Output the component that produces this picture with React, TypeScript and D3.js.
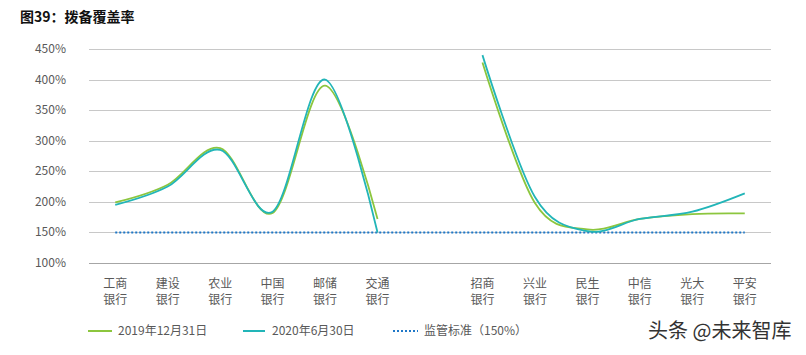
import React from "react";
import * as d3 from "d3";

const W = 806;
const H = 355;
const MARGIN = { TOP: 49, LEFT: 89, RIGHT: 35, BOTTOM: 92 };

const categories = [
  "工商银行", "建设银行", "农业银行", "中国银行", "邮储银行", "交通银行", "",
  "招商银行", "兴业银行", "民生银行", "中信银行", "光大银行", "平安银行",
];
const series2019 = [199, 228, 288, 182, 390, 172, null, 428, 198, 155, 172, 180, 181];
const series2020 = [195, 225, 285, 184, 400, 150, null, 440, 208, 152, 172, 184, 214];
const standard = 150;
const yTicks = [100, 150, 200, 250, 300, 350, 400, 450];

const GREEN = "#8cc63e";
const CYAN = "#22b5b8";
const BLUE = "#1f78c8";
const TEXT = "#595959";
const FONT = "'Noto Sans CJK SC', 'Noto Sans', sans-serif";

const App = () => {
  const x = d3
    .scaleBand()
    .domain(categories.map((c, i) => String(i)))
    .range([MARGIN.LEFT, W - MARGIN.RIGHT]);
  const cx = (i: number) => (x(String(i)) as number) + x.bandwidth() / 2;

  const y = d3.scaleLinear().domain([100, 450]).range([H - MARGIN.BOTTOM, MARGIN.TOP]);

  const line = d3
    .line<number | null>()
    .defined((d) => d !== null)
    .x((d, i) => cx(i))
    .y((d) => y(d as number))
    .curve(d3.curveCardinal.tension(0));

  const firstIdx = 0;
  const lastIdx = categories.length - 1;

  return (
    <svg width={W} height={H} style={{ position: "absolute", left: 0, top: 0, background: "#fff" }} fontFamily={FONT}>
      <text x={20} y={22} fontSize={14} fontWeight="bold" fill="#111">
        图39：拨备覆盖率
      </text>

      {yTicks.map((t) => (
        <g key={t}>
          <line
            x1={MARGIN.LEFT}
            x2={W - MARGIN.RIGHT}
            y1={Math.round(y(t)) + 0.5}
            y2={Math.round(y(t)) + 0.5}
            stroke={t === 100 ? "#a6a6a6" : "#c8c8c8"}
            strokeWidth={1}
          />
          <text x={66} y={y(t) + 4} fontSize={12} fill={TEXT} textAnchor="end">
            {t}%
          </text>
        </g>
      ))}

      {categories.map((c, i) =>
        c ? (
          <text key={i} x={cx(i)} fontSize={12} fill={TEXT} textAnchor="middle">
            <tspan x={cx(i)} y={288}>{c.slice(0, 2)}</tspan>
            <tspan x={cx(i)} y={304}>{c.slice(2)}</tspan>
          </text>
        ) : null
      )}

      <line
        x1={cx(firstIdx)}
        x2={cx(lastIdx)}
        y1={y(standard)}
        y2={y(standard)}
        stroke={BLUE}
        strokeWidth={2}
        strokeDasharray="2,2"
      />
      <path d={line(series2019) || ""} fill="none" stroke={GREEN} strokeWidth={1.8} />
      <path d={line(series2020) || ""} fill="none" stroke={CYAN} strokeWidth={1.8} />

      <g fontSize={12} fill={TEXT}>
        <line x1={88} x2={112} y1={331} y2={331} stroke={GREEN} strokeWidth={2} />
        <text x={118} y={335}>2019年12月31日</text>
        <line x1={243} x2={265} y1={331} y2={331} stroke={CYAN} strokeWidth={2} />
        <text x={272} y={335}>2020年6月30日</text>
        <line x1={393} x2={418} y1={331} y2={331} stroke={BLUE} strokeWidth={2} strokeDasharray="2,2" />
        <text x={424} y={335}>监管标准（150%）</text>
      </g>

      <text
        x={648}
        y={338}
        fontSize={20}
        fill="#333"
        stroke="#fff"
        strokeWidth={2}
        paintOrder="stroke"
      >
        头条 @未来智库
      </text>
    </svg>
  );
};

export default App;
